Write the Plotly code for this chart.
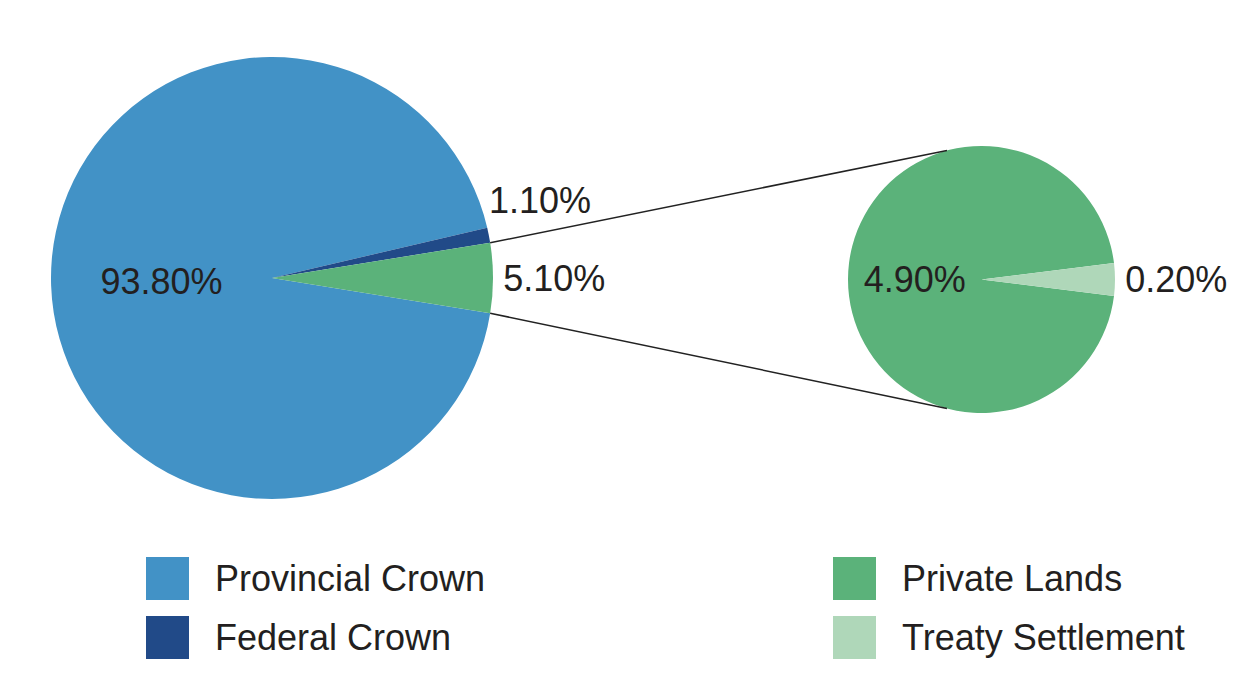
import math
import plotly.graph_objects as go

# ---- data ----
main_labels = ["Provincial Crown", "Federal Crown", "Private Lands"]
main_values = [93.8, 1.1, 5.1]
main_colors = ["#4292c6", "#214a88", "#5bb27a"]

detail_labels = ["Private Lands", "Treaty Settlement"]
detail_values = [4.9, 0.2]
detail_colors = ["#5bb27a", "#afd7b9"]

legend_col1 = ["Provincial Crown", "Federal Crown"]
legend_col2 = ["Private Lands", "Treaty Settlement"]
legend_colors = {
    "Provincial Crown": "#4292c6",
    "Federal Crown": "#214a88",
    "Private Lands": "#5bb27a",
    "Treaty Settlement": "#afd7b9",
}

# ---- layout geometry (pixels) ----
W, H = 1258, 698
FONT = "Liberation Sans, Arial, Helvetica, sans-serif"
TXT = "#231f20"
FS = 36

main_c, main_r = (272, 278), 221
det_c, det_r = (981.5, 279.5), 133.5


def dom(c, r):
    return dict(x=[(c[0] - r) / W, (c[0] + r) / W],
                y=[1 - (c[1] + r) / H, 1 - (c[1] - r) / H])


def px(x, y):
    return x / W, 1 - y / H


tot_main = sum(main_values)
rot_main = 90 + main_values[-1] / tot_main * 360 / 2
tot_det = sum(detail_values)
rot_det = 90 + detail_values[-1] / tot_det * 360 / 2

fig = go.Figure()
fig.add_trace(go.Pie(
    labels=main_labels, values=main_values, sort=False, direction="clockwise",
    rotation=rot_main, domain=dom(main_c, main_r),
    marker=dict(colors=main_colors, line=dict(width=0)),
    texttemplate="%{value:.2f}%",
    textposition=["inside", "none", "outside"],
    insidetextorientation="horizontal",
    textfont=dict(family=FONT, size=FS, color=TXT),
    showlegend=False, hoverinfo="label+value",
))
fig.add_trace(go.Pie(
    labels=detail_labels, values=detail_values, sort=False, direction="clockwise",
    rotation=rot_det, domain=dom(det_c, det_r),
    marker=dict(colors=detail_colors, line=dict(width=0)),
    texttemplate="%{value:.2f}%", textposition=["inside", "outside"],
    insidetextorientation="horizontal",
    textfont=dict(family=FONT, size=FS, color=TXT),
    showlegend=False, hoverinfo="label+value",
))

annotations = []
# label of the thin Federal Crown wedge, lifted above it
fx, fy = px(487, 200.5)
annotations.append(dict(text=f"{main_values[1]:.2f}%", x=fx, y=fy, xref="paper", yref="paper",
                        xanchor="left", yanchor="middle", showarrow=False,
                        font=dict(family=FONT, size=FS, color=TXT)))

# connector lines from the Private Lands wedge to the detail pie
half = math.radians(main_values[-1] / tot_main * 360 / 2)
conn = math.radians(105)
shapes = []
for s in (1, -1):
    x0 = main_c[0] + main_r * math.cos(half)
    y0 = main_c[1] - s * main_r * math.sin(half)
    x1 = det_c[0] + det_r * math.cos(conn)
    y1 = det_c[1] - s * det_r * math.sin(conn)
    a, b = px(x0, y0)
    c, d = px(x1, y1)
    shapes.append(dict(type="line", xref="paper", yref="paper", x0=a, y0=b, x1=c, y1=d,
                       line=dict(color="#222222", width=1.5)))

# legend (custom, large swatches)
SW = 43
for col_x, items in ((146, legend_col1), (833, legend_col2)):
    for i, name in enumerate(items):
        top = 557 + i * 59
        a, b = px(col_x, top)
        c, d = px(col_x + SW, top + SW)
        shapes.append(dict(type="rect", xref="paper", yref="paper", x0=a, y0=d, x1=c, y1=b,
                           fillcolor=legend_colors[name], line=dict(width=0)))
        tx, ty = px(col_x + 67, top + SW / 2)
        annotations.append(dict(text=name, x=tx, y=ty, xref="paper", yref="paper",
                                xanchor="left", yanchor="middle", showarrow=False,
                                font=dict(family=FONT, size=FS, color=TXT)))

fig.update_layout(
    width=W, height=H, margin=dict(l=0, r=0, t=0, b=0),
    paper_bgcolor="white", plot_bgcolor="white",
    shapes=shapes, annotations=annotations,
)

fig.write_html("out.html")
